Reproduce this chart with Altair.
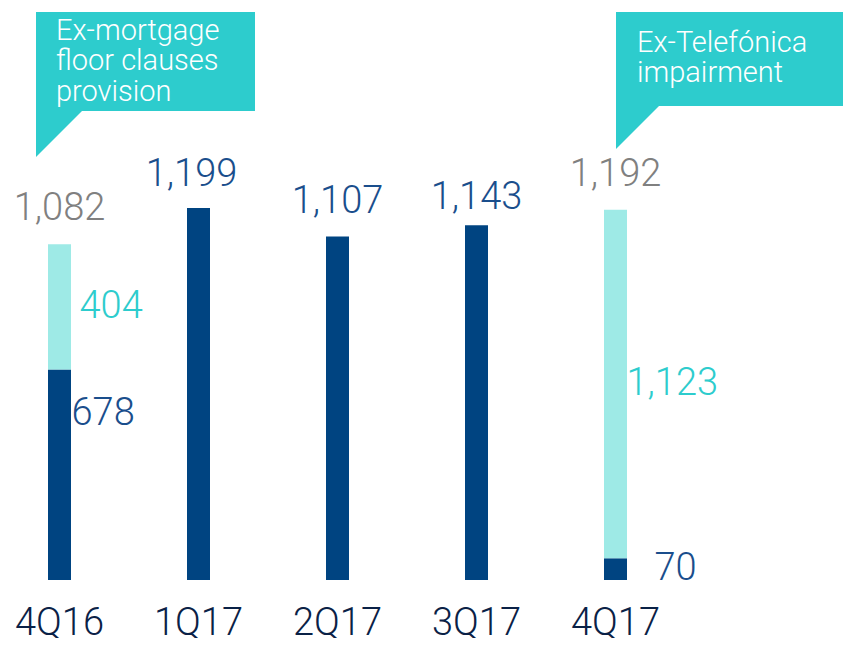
import altair as alt
import pandas as pd

quarters = ["4Q16", "1Q17", "2Q17", "3Q17", "4Q17"]
core = [678, 1199, 1107, 1143, 70]
extra = [404, 0, 0, 0, 1123]
totals = [1082, 1199, 1107, 1143, 1192]
callout_texts = [["Ex-mortgage", "floor clauses", "provision"], ["Ex-Telefónica", "impairment"]]

NAVY = "#004481"
LIGHT = "#9EEAE6"
AQUA = "#2DCCCD"
LABEL_NAVY = "#1A4E8C"
GRAY = "#808080"
AXIS = "#0A2146"
FONT = "Roboto"

W, H = 835, 572
YMAX = 1843.4

rows = []
for q, c, e in zip(quarters, core, extra):
    rows.append({"quarter": q, "segment": "core", "y0": 0, "y1": c, "mid": c / 2, "value": c})
    if e > 0:
        rows.append({"quarter": q, "segment": "extra", "y0": c, "y1": c + e, "mid": c + e / 2, "value": e})
seg = pd.DataFrame(rows)
tot = pd.DataFrame({"quarter": quarters, "total": totals, "extra": extra})

xenc = alt.X("quarter:N", sort=quarters,
             scale=alt.Scale(range=[-18, 677], paddingInner=0, paddingOuter=0),
             axis=alt.Axis(title=None, domain=False, ticks=False, tickSize=0, labelAngle=0,
                           labelFontSize=38, labelColor=AXIS, labelFont=FONT, labelFontWeight=300,
                           labelBaseline="middle", labelPadding=43))
yscale = alt.Scale(domain=[0, YMAX], nice=False, zero=True)

base = alt.Chart(seg)

bars = base.mark_bar(size=23).encode(
    x=xenc,
    y=alt.Y("y0:Q", scale=yscale, axis=None),
    y2="y1:Q",
    color=alt.Color("segment:N", scale=alt.Scale(domain=["core", "extra"], range=[NAVY, LIGHT]), legend=None),
)


def total_layer(qs, dx=0, dy=-35):
    return alt.Chart(tot).transform_filter(alt.FieldOneOfPredicate(field="quarter", oneOf=qs)).mark_text(
        dx=dx, dy=dy, baseline="middle", fontSize=38, font=FONT, fontWeight=300
    ).encode(
        x=alt.X("quarter:N", sort=quarters),
        y=alt.Y("total:Q"),
        text=alt.Text("total:Q", format=","),
        color=alt.condition(alt.datum.extra > 0, alt.value(GRAY), alt.value(LABEL_NAVY)),
    )


tot_main = total_layer(["4Q16", "2Q17", "4Q17"])
tot_1q = total_layer(["1Q17"], dx=-7, dy=-33)
tot_3q = total_layer(["3Q17"], dy=-27)

lbl_404 = base.transform_filter((alt.datum.segment == "extra") & (alt.datum.quarter == "4Q16")).mark_text(
    align="left", baseline="middle", dx=20, fontSize=38, font=FONT, fontWeight=300, color=AQUA
).encode(x=alt.X("quarter:N", sort=quarters), y="mid:Q", text=alt.Text("value:Q", format=","))

lbl_1123 = base.transform_filter((alt.datum.segment == "extra") & (alt.datum.quarter == "4Q17")).mark_text(
    align="left", baseline="middle", dx=11, fontSize=38, font=FONT, fontWeight=300, color=AQUA
).encode(x=alt.X("quarter:N", sort=quarters), y="mid:Q", text=alt.Text("value:Q", format=","))

lbl_678 = base.transform_filter((alt.datum.segment == "core") & (alt.datum.quarter == "4Q16")).mark_text(
    align="left", baseline="middle", dx=12, dy=44, fontSize=38, font=FONT, fontWeight=300, color=LABEL_NAVY
).encode(x=alt.X("quarter:N", sort=quarters), y="y1:Q", text=alt.Text("value:Q", format=","))

lbl_70 = base.transform_filter((alt.datum.segment == "core") & (alt.datum.quarter == "4Q17")).mark_text(
    align="left", baseline="middle", dx=39, fontSize=38, font=FONT, fontWeight=300, color=LABEL_NAVY
).encode(x=alt.X("quarter:N", sort=quarters), y="mid:Q", text=alt.Text("value:Q", format=","))

one = alt.Data(values=[{"k": 1}])

box1 = alt.Chart(one).mark_rect(color=AQUA).encode(
    x=alt.value(28), x2=alt.value(247), y=alt.value(4), y2=alt.value(103))
tail1 = alt.Chart(one).mark_point(shape="M-1,-1L1,-1L-1,1Z", size=46 * 46, filled=True, opacity=1,
                                  strokeWidth=0, color=AQUA).encode(
    x=alt.value(51), y=alt.value(126))
text1 = alt.Chart(one).mark_text(text=callout_texts[0], align="left", baseline="alphabetic",
                                 lineHeight=30.5, fontSize=29, font=FONT, fontWeight=300, color="white").encode(
    x=alt.value(48), y=alt.value(31.5))

box2 = alt.Chart(one).mark_rect(color=AQUA).encode(
    x=alt.value(608), x2=alt.value(843), y=alt.value(4), y2=alt.value(98))
tail2 = alt.Chart(one).mark_point(shape="M-1,-1L1,-1L-1,1Z", size=43 * 43, filled=True, opacity=1,
                                  strokeWidth=0, color=AQUA).encode(
    x=alt.value(629.5), y=alt.value(119.5))
text2 = alt.Chart(one).mark_text(text=callout_texts[1], align="left", baseline="alphabetic",
                                 lineHeight=30, fontSize=29, font=FONT, fontWeight=300, color="white").encode(
    x=alt.value(629), y=alt.value(44))

chart = alt.layer(
    bars, tot_main, tot_1q, tot_3q, lbl_404, lbl_1123, lbl_678, lbl_70,
    box1, tail1, text1, box2, tail2, text2
).properties(
    width=W, height=H,
    autosize=alt.AutoSizeParams(type="none"),
    padding={"left": 0, "top": 0, "right": 0, "bottom": 58},
).configure_view(stroke=None)

chart.save("out.html", embed_options={"renderer": "svg", "actions": False})
